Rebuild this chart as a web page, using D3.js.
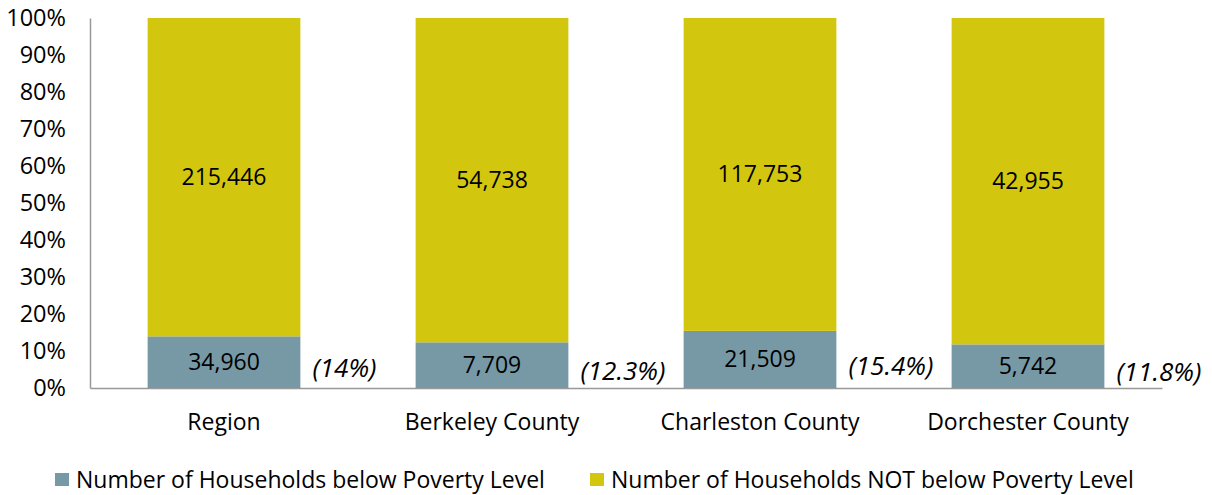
<!DOCTYPE html>
<html lang="en">
<head>
<meta charset="UTF-8">
<title>Households below Poverty Level</title>
<script src="https://d3js.org/d3.v7.min.js"></script>
<style>
    body { margin: 0; background: #fff; }
    svg, svg text { font-family: "Open Sans", "Noto Sans", sans-serif; }
    .tick text { fill: #000; }
</style>
</head>
<body>
<svg class="chart" width="1212" height="495"></svg>
<script>
    const categories = ["Region", "Berkeley County", "Charleston County", "Dorchester County"];
    const belowPoverty = [34960, 7709, 21509, 5742];
    const notBelowPoverty = [215446, 54738, 117753, 42955];
    const pctLabels = ["(14%)", "(12.3%)", "(15.4%)", "(11.8%)"];
    const seriesNames = ["Number of Households below Poverty Level", "Number of Households NOT below Poverty Level"];
    const colors = ["#7799a5", "#d3c60e"];

    const svg = d3.select(".chart");
    const margin = { left: 90, right: 50, top: 18, bottom: 107 };
    const width = 1212 - margin.left - margin.right;
    const height = 495 - margin.top - margin.bottom;

    const g = svg.append("g").attr("transform", `translate(${margin.left},${margin.top})`);

    const x = d3.scaleBand().domain(categories).range([0, width]).paddingInner(0.43).paddingOuter(0.215);
    const y = d3.scaleLinear().domain([0, 1]).range([height, 0]);

    const rows = categories.map((c, i) => {
        const total = belowPoverty[i] + notBelowPoverty[i];
        return { cat: c, below: belowPoverty[i] / total, not: notBelowPoverty[i] / total, i: i };
    });
    const layers = d3.stack().keys(["below", "not"])(rows);

    // axes
    const yAxis = g.append("g").call(d3.axisLeft(y).ticks(10, "%").tickSize(0).tickPadding(24));
    yAxis.attr("font-family", null).attr("font-size", null);
    yAxis.selectAll(".tick text").style("font-size", "23.5px");
    yAxis.select(".domain").attr("stroke", "#999").attr("stroke-width", 1.5);

    const xAxis = g.append("g").attr("transform", `translate(0,${height})`)
        .call(d3.axisBottom(x).tickSize(0).tickPadding(26));
    xAxis.attr("font-family", null).attr("font-size", null);
    xAxis.selectAll(".tick text").style("font-size", "23px");
    xAxis.select(".domain").attr("stroke", "#999").attr("stroke-width", 1.5);

    layers.forEach((layer, li) => {
        g.append("g").selectAll("rect")
            .data(layer)
            .enter().append("rect")
            .attr("x", d => x(d.data.cat))
            .attr("width", x.bandwidth())
            .attr("y", d => y(d[1]))
            .attr("height", d => y(d[0]) - y(d[1]))
            .attr("fill", colors[li]);

        g.append("g").selectAll("text")
            .data(layer)
            .enter().append("text")
            .attr("x", d => x(d.data.cat) + x.bandwidth() / 2)
            .attr("y", d => (y(d[0]) + y(d[1])) / 2)
            .attr("dy", "0.35em")
            .attr("text-anchor", "middle")
            .style("font-size", "23px")
            .text(d => d3.format(",")(li === 0 ? belowPoverty[d.data.i] : notBelowPoverty[d.data.i]));
    });

    // percentage labels to the right of each bar
    g.append("g").selectAll("text")
        .data(rows)
        .enter().append("text")
        .attr("x", d => x(d.cat) + x.bandwidth() + 12)
        .attr("y", d => y(d.below / 2) + 6)
        .attr("dy", "0.35em")
        .style("font-size", "26px")
        .style("font-style", "italic")
        .text(d => pctLabels[d.i]);

    // legend
    const legendX = [55, 590];
    const legend = svg.append("g").selectAll("g")
        .data(seriesNames)
        .enter().append("g")
        .attr("transform", (d, i) => `translate(${legendX[i]},473)`);
    legend.append("rect").attr("width", 14).attr("height", 13).attr("fill", (d, i) => colors[i]);
    legend.append("text").attr("x", 21).attr("y", 7).attr("dy", "0.35em")
        .style("font-size", "23px").text(d => d);
</script>
</body>
</html>
